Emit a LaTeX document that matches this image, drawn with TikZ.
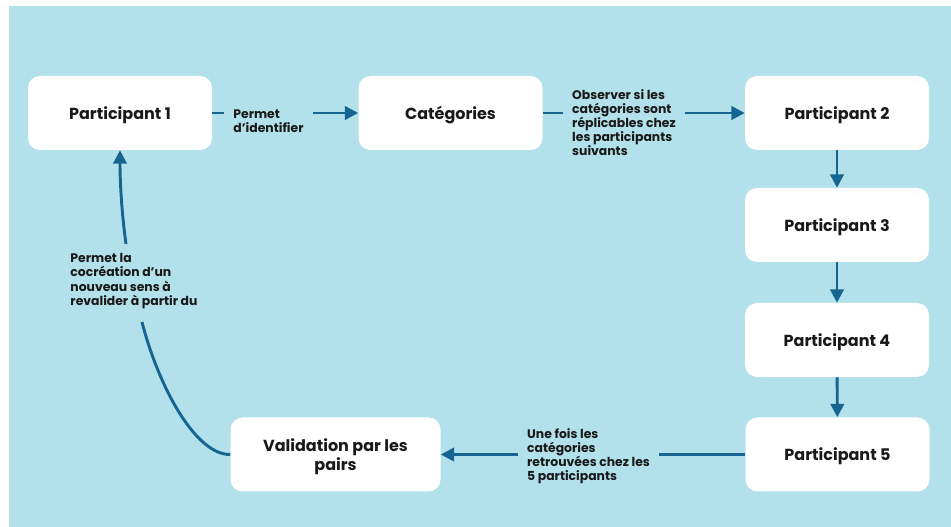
\documentclass[tikz,border=0pt]{standalone}
\usepackage{fontspec}
\setmainfont{Poppins}
\usetikzlibrary{arrows.meta}
\definecolor{bg}{RGB}{179,225,235}
\definecolor{arr}{RGB}{22,101,145}
\definecolor{txt}{RGB}{25,25,25}
\begin{document}
\begin{tikzpicture}[x=0.75pt,y=-0.75pt,
 box/.style={draw=none,fill=white,rounded corners=9pt,minimum width=138pt,minimum height=55.5pt,font=\bfseries\fontsize{12}{14.5}\selectfont,text=txt,align=center,text depth=0pt},
 lab/.style={font=\bfseries\fontsize{9.3}{10.6}\selectfont,text=txt,align=left,inner xsep=7pt,inner ysep=0pt},
 conn/.style={draw=arr,line width=2.2pt},
 arrow/.style={conn,-{Triangle[length=10pt,width=10pt]}}]
\useasboundingbox (0,0) rectangle (951,527);
\fill[white] (0,0) rectangle (951,527);
\fill[bg] (9,6) rectangle (951,527);
% boxes
\node[box] (p1) at (120,113) {Participant 1};
\node[box] (cat) at (450.5,113) {Catégories};
\node[box] (p2) at (837,113) {Participant 2};
\node[box] (p3) at (837,225) {Participant 3};
\node[box] (p4) at (837,340) {Participant 4};
\node[box] (p5) at (837.5,454.5) {Participant 5};
\node[box,minimum width=157.5pt] (val) at (335.5,454.5) {Validation par les\\pairs};
% labels
\node[lab] (lab1) at (268.5,121) {Permet\\d’identifier};
\node[lab] (lab2) at (624,122.5) {Observer si les\\catégories sont\\réplicables chez\\les participants\\suivants};
\node[lab] (lab3) at (588.5,456) {Une fois les\\catégories\\retrouvées chez les\\5 participants};
\node[lab] (lab4) at (134,281) {Permet la\\cocréation d’un\\nouveau sens à\\revalider à partir du};
% connectors
\draw[conn] (p1.east) -- (p1.east -| lab1.west);
\draw[arrow] (p1.east -| lab1.east) -- (cat.west);
\draw[conn] (cat.east) -- (cat.east -| lab2.west);
\draw[arrow] (cat.east -| lab2.east) -- (p2.west);
\draw[arrow] (p2) -- (p3);
\draw[arrow] (p3) -- (p4);
\draw[arrow] (p4) -- (p5);
\draw[conn] (p5.west) -- (p5.west -| lab3.east);
\draw[arrow] (p5.west -| lab3.west) -- (val.east);
\coordinate (c1) at (142,322);
\coordinate (c2) at (126,244);
\draw[conn] (val.west) .. controls (195,455) and (158,385) .. (c1);
\draw[arrow] (c2) .. controls (122,215) and (120,185) .. (p1.south);
\end{tikzpicture}
\end{document}
